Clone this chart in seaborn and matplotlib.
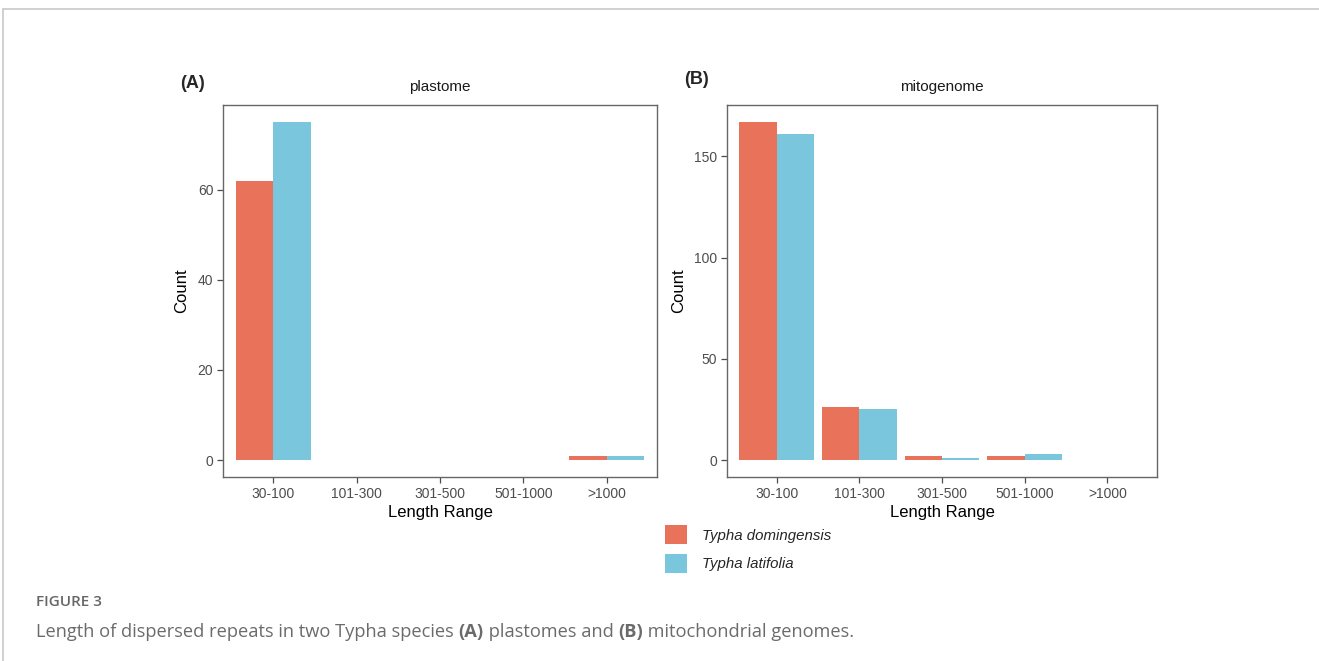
import matplotlib
matplotlib.use('Agg')
import matplotlib.pyplot as plt
import matplotlib.patches as mpatches
import matplotlib.lines as mlines
import seaborn as sns
import pandas as pd

# ---- DATA ----
length_ranges = ['30-100', '101-300', '301-500', '501-1000', '>1000']
species = ['Typha domingensis', 'Typha latifolia']
plastome_domingensis = [62, 0, 0, 0, 1]
plastome_latifolia = [75, 0, 0, 0, 1]
mito_domingensis = [167, 26, 2, 2, 0]
mito_latifolia = [161, 25, 1, 3, 0]
plastome_yticks = [0, 20, 40, 60]
mito_yticks = [0, 50, 100, 150]

colors = {'Typha domingensis': '#E9735A', 'Typha latifolia': '#7AC6DD'}


def make_df(dom, lat):
    return pd.DataFrame({
        'range': length_ranges * 2,
        'species': [species[0]] * 5 + [species[1]] * 5,
        'count': list(dom) + list(lat),
    })


sns.set_style('white')
plt.rcParams['font.family'] = ['Liberation Sans', 'DejaVu Sans']

W, H = 1319, 661
fig = plt.figure(figsize=(W / 100, H / 100), dpi=100)


def px_axes(left, top, right, bottom):
    return fig.add_axes([left / W, 1 - bottom / H, (right - left) / W, (bottom - top) / H])


def draw_panel(ax, df, yticks, title):
    sns.barplot(data=df, x='range', y='count', hue='species', order=length_ranges,
                hue_order=species, palette=colors, width=0.9, saturation=1,
                edgecolor='none', linewidth=0, ax=ax, legend=False)
    ymax = df['count'].max()
    ax.set_ylim(-0.05 * ymax, 1.05 * ymax)
    ax.set_xlim(-0.6, 4.6)
    ax.set_yticks(yticks)
    ax.set_ylabel('Count', fontsize=12, color='black', labelpad=6)
    ax.set_xlabel('Length Range', fontsize=12, color='black', labelpad=3)
    ax.tick_params(axis='both', labelsize=10, colors='#4d4d4d', length=4, width=0.9,
                   direction='out', bottom=True, left=True, pad=3)
    for s in ax.spines.values():
        s.set_color('#666666')
        s.set_linewidth(1.0)
    ax.set_title(title, fontsize=11, color='#1a1a1a', pad=10)


ax_a = px_axes(223, 105, 657, 477)
draw_panel(ax_a, make_df(plastome_domingensis, plastome_latifolia), plastome_yticks, 'plastome')
ax_b = px_axes(727, 105, 1157, 477)
draw_panel(ax_b, make_df(mito_domingensis, mito_latifolia), mito_yticks, 'mitogenome')

fig.text(180 / W, 1 - 84 / H, '(A)', fontsize=13, fontweight='bold', va='center')
fig.text(684 / W, 1 - 80 / H, '(B)', fontsize=13, fontweight='bold', va='center')

# legend below panel B
handles = [mpatches.Patch(facecolor=colors[s], edgecolor='none') for s in species]
fig.legend(handles, species, loc='upper left', bbox_to_anchor=(665 / W, 1 - 525 / H),
           frameon=False, prop={'style': 'italic', 'size': 10.8},
           borderpad=0, borderaxespad=0,
           handlelength=1.45, handleheight=1.6, labelspacing=0.63, handletextpad=1.05)

# page frame lines
fig.add_artist(mlines.Line2D([3 / W, 1], [1 - 9 / H, 1 - 9 / H], color='#c8c8c8', lw=1.2))
fig.add_artist(mlines.Line2D([3 / W, 3 / W], [0, 1 - 9 / H], color='#c8c8c8', lw=1.2))

# caption
cap_font = ['Open Sans', 'DejaVu Sans']
fig.text(36 / W, 1 - 602 / H, 'FIGURE 3', fontsize=11, color='#666666',
         family=cap_font, fontweight='semibold', va='center')
pieces = [('Length of dispersed repeats in two Typha species ', 'normal'),
          ('(A)', 'bold'), (' plastomes and ', 'normal'), ('(B)', 'bold'),
          (' mitochondrial genomes.', 'normal')]
fig.canvas.draw()
renderer = fig.canvas.get_renderer()
x = 36
for txt, wt in pieces:
    t = fig.text(x / W, 1 - 632 / H, txt, fontsize=13.15, color='#6b6b6b',
                 family=cap_font, fontweight=wt, va='center')
    bb = t.get_window_extent(renderer=renderer)
    x += bb.width

fig.savefig('out.png', dpi=100)
